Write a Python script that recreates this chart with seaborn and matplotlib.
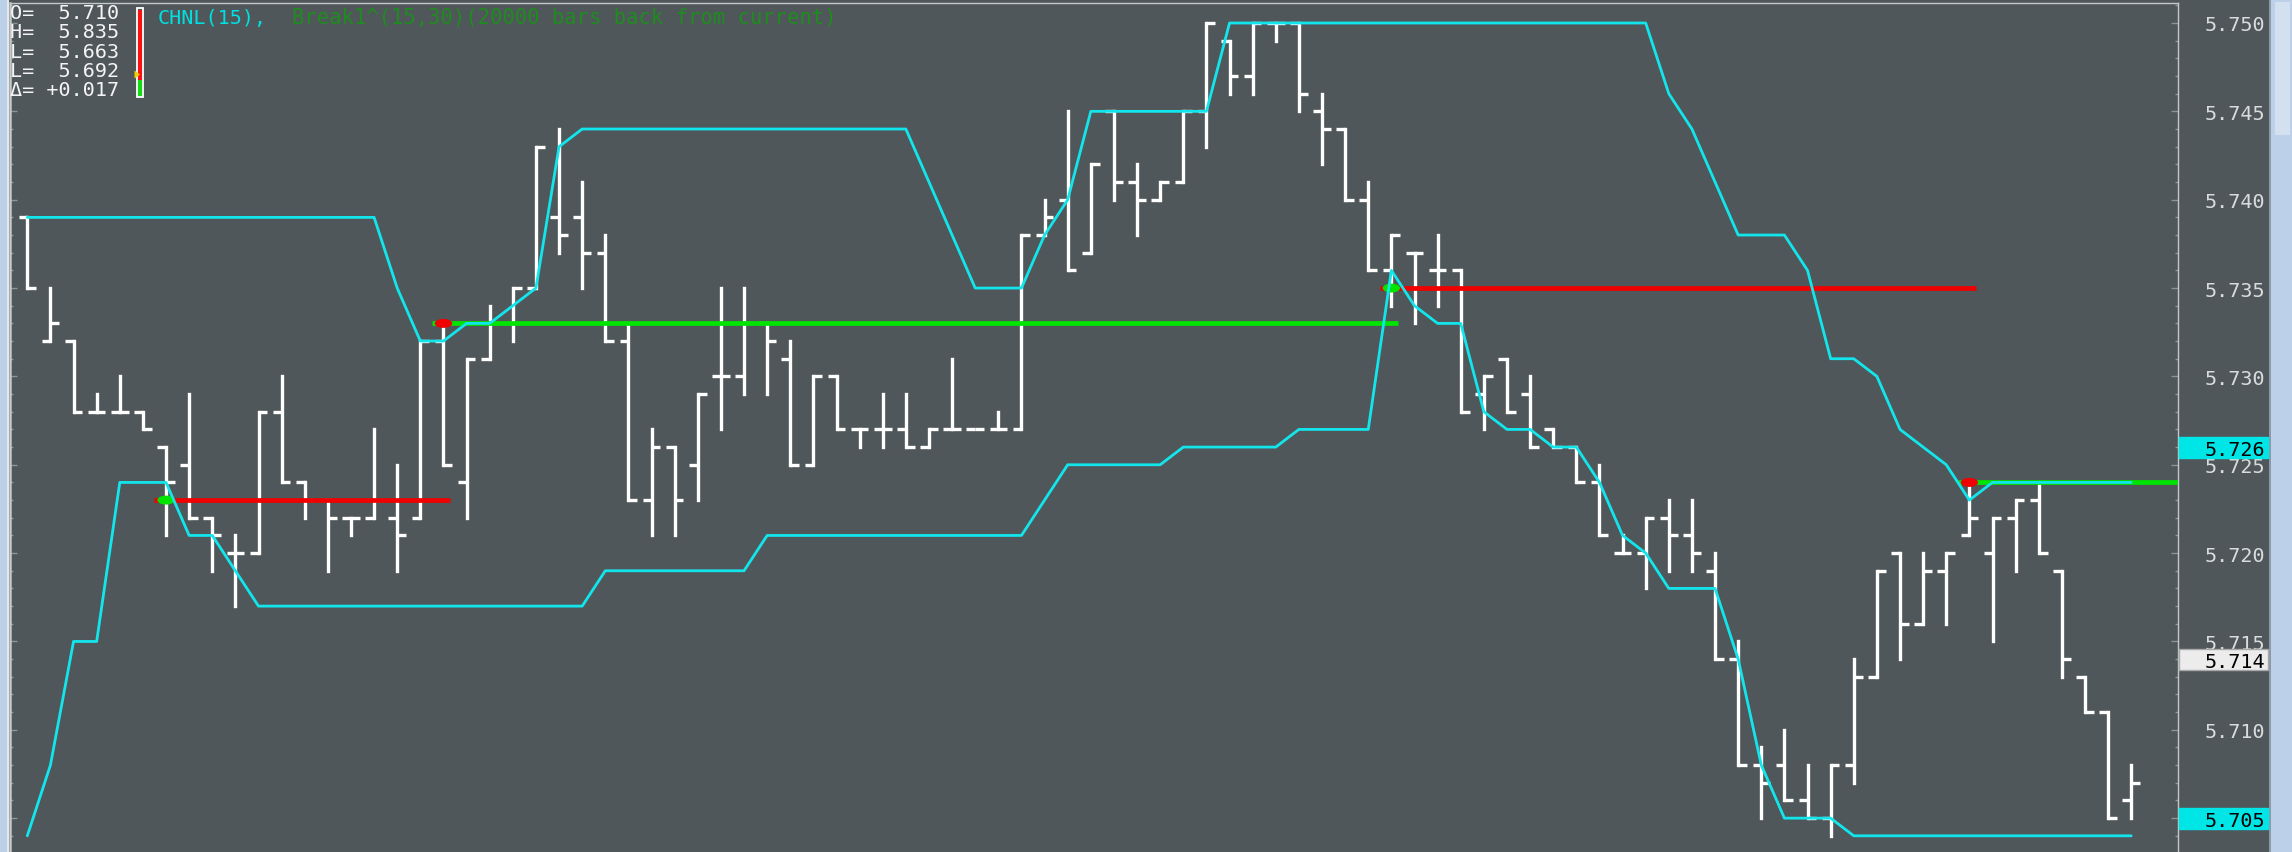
import numpy as np
import pandas as pd
import matplotlib
matplotlib.use("Agg")
import matplotlib.pyplot as plt
import seaborn as sns
from matplotlib.patches import Rectangle, Ellipse, Polygon
from matplotlib.ticker import MultipleLocator, FixedLocator, FormatStrFormatter

# ---------------- data ----------------
opens = [5.739, 5.732, 5.732, 5.728, 5.728, 5.728, 5.726, 5.725, 5.722, 5.720,
         5.720, 5.728, 5.724, 5.723, 5.722, 5.722, 5.722, 5.722, 5.732, 5.724,
         5.731, 5.733, 5.735, 5.739, 5.739, 5.737, 5.732, 5.723, 5.726, 5.725,
         5.730, 5.730, 5.733, 5.731, 5.725, 5.730, 5.727, 5.727, 5.727, 5.726,
         5.727, 5.727, 5.727, 5.727, 5.738, 5.740, 5.737, 5.745, 5.741, 5.740,
         5.741, 5.745, 5.749, 5.747, 5.750, 5.750, 5.745, 5.744, 5.740, 5.736,
         5.737, 5.736, 5.736, 5.729, 5.731, 5.729, 5.727, 5.726, 5.724, 5.720,
         5.720, 5.722, 5.721, 5.719, 5.714, 5.708, 5.708, 5.706, 5.705, 5.708,
         5.713, 5.720, 5.716, 5.719, 5.721, 5.720, 5.722, 5.723, 5.719, 5.713,
         5.711, 5.706]
highs = [5.739, 5.735, 5.732, 5.729, 5.730, 5.728, 5.726, 5.729, 5.722, 5.721,
         5.728, 5.730, 5.724, 5.723, 5.722, 5.727, 5.725, 5.732, 5.733, 5.731,
         5.734, 5.735, 5.743, 5.744, 5.741, 5.738, 5.733, 5.727, 5.726, 5.729,
         5.735, 5.735, 5.733, 5.732, 5.730, 5.730, 5.727, 5.729, 5.729, 5.727,
         5.731, 5.727, 5.728, 5.738, 5.740, 5.745, 5.742, 5.745, 5.742, 5.741,
         5.745, 5.750, 5.749, 5.750, 5.750, 5.750, 5.746, 5.744, 5.741, 5.738,
         5.737, 5.738, 5.736, 5.730, 5.731, 5.730, 5.727, 5.726, 5.725, 5.721,
         5.722, 5.723, 5.723, 5.720, 5.715, 5.709, 5.710, 5.708, 5.708, 5.714,
         5.719, 5.720, 5.720, 5.720, 5.724, 5.722, 5.723, 5.724, 5.719, 5.713,
         5.711, 5.708]
lows = [5.735, 5.732, 5.728, 5.728, 5.728, 5.727, 5.721, 5.722, 5.719, 5.717,
        5.720, 5.724, 5.722, 5.719, 5.721, 5.722, 5.719, 5.722, 5.725, 5.722,
        5.731, 5.732, 5.735, 5.737, 5.735, 5.732, 5.723, 5.721, 5.721, 5.723,
        5.727, 5.729, 5.729, 5.725, 5.725, 5.727, 5.726, 5.726, 5.726, 5.726,
        5.727, 5.727, 5.727, 5.727, 5.738, 5.736, 5.737, 5.740, 5.738, 5.740,
        5.741, 5.743, 5.746, 5.746, 5.749, 5.745, 5.742, 5.740, 5.736, 5.734,
        5.733, 5.734, 5.728, 5.727, 5.728, 5.726, 5.726, 5.724, 5.721, 5.720,
        5.718, 5.719, 5.719, 5.714, 5.708, 5.705, 5.706, 5.705, 5.704, 5.707,
        5.713, 5.714, 5.716, 5.716, 5.721, 5.715, 5.719, 5.720, 5.713, 5.711,
        5.705, 5.705]
closes = [5.735, 5.733, 5.728, 5.728, 5.728, 5.727, 5.724, 5.722, 5.721, 5.720,
          5.728, 5.724, 5.723, 5.722, 5.722, 5.723, 5.721, 5.732, 5.725, 5.731,
          5.733, 5.735, 5.743, 5.738, 5.737, 5.732, 5.723, 5.726, 5.723, 5.729,
          5.730, 5.733, 5.732, 5.725, 5.730, 5.727, 5.727, 5.727, 5.726, 5.727,
          5.727, 5.727, 5.727, 5.738, 5.739, 5.736, 5.742, 5.741, 5.740, 5.741,
          5.745, 5.750, 5.747, 5.750, 5.750, 5.746, 5.744, 5.740, 5.736, 5.738,
          5.737, 5.736, 5.728, 5.730, 5.728, 5.726, 5.726, 5.724, 5.721, 5.720,
          5.722, 5.721, 5.720, 5.714, 5.708, 5.707, 5.706, 5.705, 5.708, 5.713,
          5.719, 5.716, 5.719, 5.720, 5.722, 5.722, 5.723, 5.720, 5.714, 5.711,
          5.705, 5.707]

chnl_upper = [5.739, 5.739, 5.739, 5.739, 5.739, 5.739, 5.739, 5.739, 5.739, 5.739,
              5.739, 5.739, 5.739, 5.739, 5.739, 5.739, 5.735, 5.732, 5.732, 5.733,
              5.733, 5.734, 5.735, 5.743, 5.744, 5.744, 5.744, 5.744, 5.744, 5.744,
              5.744, 5.744, 5.744, 5.744, 5.744, 5.744, 5.744, 5.744, 5.744, 5.741,
              5.738, 5.735, 5.735, 5.735, 5.738, 5.740, 5.745, 5.745, 5.745, 5.745,
              5.745, 5.745, 5.750, 5.750, 5.750, 5.750, 5.750, 5.750, 5.750, 5.750,
              5.750, 5.750, 5.750, 5.750, 5.750, 5.750, 5.750, 5.750, 5.750, 5.750,
              5.750, 5.746, 5.744, 5.741, 5.738, 5.738, 5.738, 5.736, 5.731, 5.731,
              5.730, 5.727, 5.726, 5.725, 5.723, 5.724, 5.724, 5.724, 5.724, 5.724,
              5.724, 5.724]
chnl_lower = [5.704, 5.708, 5.715, 5.715, 5.724, 5.724, 5.724, 5.721, 5.721, 5.719,
              5.717, 5.717, 5.717, 5.717, 5.717, 5.717, 5.717, 5.717, 5.717, 5.717,
              5.717, 5.717, 5.717, 5.717, 5.717, 5.719, 5.719, 5.719, 5.719, 5.719,
              5.719, 5.719, 5.721, 5.721, 5.721, 5.721, 5.721, 5.721, 5.721, 5.721,
              5.721, 5.721, 5.721, 5.721, 5.723, 5.725, 5.725, 5.725, 5.725, 5.725,
              5.726, 5.726, 5.726, 5.726, 5.726, 5.727, 5.727, 5.727, 5.727, 5.736,
              5.734, 5.733, 5.733, 5.728, 5.727, 5.727, 5.726, 5.726, 5.724, 5.721,
              5.720, 5.718, 5.718, 5.718, 5.714, 5.708, 5.705, 5.705, 5.705, 5.704,
              5.704, 5.704, 5.704, 5.704, 5.704, 5.704, 5.704, 5.704, 5.704, 5.704,
              5.704, 5.704]

break_bars = [6, 18, 59, 84]
break_levels = [5.723, 5.733, 5.735, 5.724]
break_dirs = ["down", "up", "down", "up"]

axis_ticks = [5.705, 5.710, 5.715, 5.720, 5.725, 5.730, 5.735, 5.740, 5.745, 5.750]
highlight_values = [5.726, 5.714, 5.705]
highlight_kinds = ["cyan", "gray", "cyan"]

legend_rows = ["O=  5.710", "H=  5.835", "L=  5.663", "L=  5.692", "\u0394= +0.017"]
title_chnl = "CHNL(15),"
title_break = "Break1^(15,30)(20000 bars back from current)"

# ---------------- style ----------------
BG = "#4f575a"
CYAN = "#12e6ec"
RED = "#f00000"
GREEN = "#00e400"
BARC = "#ffffff"

sns.set_style("dark")
plt.rcParams["font.family"] = ["DejaVu Sans Mono", "DejaVu Sans"]

W, H = 2292, 853
fig = plt.figure(figsize=(W / 100, H / 100), dpi=100, facecolor=BG)

# layout (pixels)
ax_left, ax_right, ax_top = 10, 2178, 3.5
bar0_px, bar_step = 27.3, 23.12
ref_val, ref_px, pxu = 5.750, 24.0, 17670.0

ax = fig.add_axes([ax_left / W, 0, (ax_right - ax_left) / W, (H - ax_top) / H])
ax.set_facecolor(BG)
xl0 = -(bar0_px - ax_left) / bar_step
xl1 = (ax_right - bar0_px) / bar_step
ax.set_xlim(xl0, xl1)
yt = ref_val + (ref_px - ax_top) / pxu
yb = yt - (H - ax_top) / pxu
ax.set_ylim(yb, yt)

df = pd.DataFrame({"bar": np.arange(len(opens)), "open": opens, "high": highs,
                   "low": lows, "close": closes,
                   "upper": chnl_upper, "lower": chnl_lower})

# OHLC bars
tick = 0.38
lw_bar = 2.4
ax.vlines(df["bar"], df["low"], df["high"], colors=BARC, linewidth=lw_bar,
          capstyle="projecting", zorder=2)
ax.hlines(df["open"], df["bar"] - tick, df["bar"], colors=BARC, linewidth=lw_bar,
          capstyle="butt", zorder=2)
ax.hlines(df["close"], df["bar"], df["bar"] + tick, colors=BARC, linewidth=lw_bar,
          capstyle="butt", zorder=2)

# breakout lines
for k, (b, lvl, d) in enumerate(zip(break_bars, break_levels, break_dirs)):
    end = break_bars[k + 1] + 0.3 if k + 1 < len(break_bars) else xl1 + 1
    col = RED if d == "down" else GREEN
    other = GREEN if d == "down" else RED
    ax.hlines(lvl, b - 0.5, end, colors=col, linewidth=3.4, zorder=3,
              capstyle="butt")
    ax.add_patch(Ellipse((b, lvl), width=0.75, height=9 / pxu, color=other,
                         zorder=3.5, lw=0))

# channel lines
sns.lineplot(data=df, x="bar", y="upper", ax=ax, color=CYAN, linewidth=2.0,
             zorder=5, legend=False)
sns.lineplot(data=df, x="bar", y="lower", ax=ax, color=CYAN, linewidth=2.0,
             zorder=5, legend=False)

ax.set_xlabel("")
ax.set_ylabel("")
ax.grid(False)

# axis / ticks
ax.yaxis.set_major_locator(FixedLocator(axis_ticks))
ax.yaxis.set_major_formatter(FormatStrFormatter("%.3f"))
ax.yaxis.set_minor_locator(MultipleLocator(0.001))
ax.tick_params(axis="y", which="both", direction="in", left=True, right=True,
               labelleft=False, labelright=True, colors="#8c9496",
               labelcolor="#d8dcdc", labelsize=14.5, pad=19)
ax.tick_params(axis="y", which="major", length=5, width=1)
ax.tick_params(axis="y", which="minor", length=2.5, width=1)
ax.tick_params(axis="x", which="both", bottom=False, top=False,
               labelbottom=False)
for s in ["left", "right", "top"]:
    ax.spines[s].set_visible(True)
    ax.spines[s].set_color("#c4c8c8")
ax.spines["left"].set_linewidth(1.8)
ax.spines["right"].set_linewidth(1.0)
ax.spines["top"].set_linewidth(1.0)
ax.spines["bottom"].set_visible(False)

# ---------------- overlay (frame pieces, legend, value boxes) ----------------
ov = fig.add_axes([0, 0, 1, 1], zorder=10)
ov.set_xlim(0, W)
ov.set_ylim(H, 0)
ov.axis("off")
ov.patch.set_alpha(0)

# window frame strips
ov.add_patch(Rectangle((0, 0), 7, H, color="#bcd0e8", lw=0))
ov.add_patch(Rectangle((7, 0), 1.5, H, color="#e4e8ec", lw=0))
ov.add_patch(Rectangle((0, 0), W, 1.3, color="#d2d4d6", lw=0))
ov.add_patch(Rectangle((2268.5, 0), 2.0, H, color="#8c9aa8", lw=0))
ov.add_patch(Rectangle((2270.5, 0), W - 2270.5, H, color="#bcd0ea", lw=0))
ov.add_patch(Rectangle((2275, 3), 15, 133, color="#d2e0f0", lw=0))

# highlighted price boxes on the axis
fig.canvas.draw()
for v, kind in zip(highlight_values, highlight_kinds):
    yc = H - ax.transData.transform((0, v))[1]
    if kind == "cyan":
        fc, ec = "#00e6e6", "#00e6e6"
    else:
        fc, ec = "#ececec", "#a8a8a8"
    ov.add_patch(Rectangle((2179, yc - 10.5), 89, 21, facecolor=fc,
                           edgecolor=ec, lw=1))
    ov.text(2265, yc, f"{v:.3f}", ha="right", va="center_baseline",
            fontsize=14.5, color="#000000")

# OHLC legend block
for i, row in enumerate(legend_rows):
    ov.text(10.5, 13.5 + 19.3 * i, row, ha="left", va="center", fontsize=14.5,
            color="#f4f4f4")

# colour bar with marker
ov.add_patch(Rectangle((137, 9), 6, 89, facecolor="none", edgecolor="#ffffff",
                       lw=1.3))
ov.add_patch(Rectangle((138.3, 10.5), 3.4, 70.5, color="#ff1010", lw=0))
ov.add_patch(Rectangle((138.3, 81), 3.4, 15.8, color="#10dd10", lw=0))
ov.add_patch(Polygon([[134.5, 71.5], [134.5, 79.5], [140, 75.5]],
                     closed=True, color="#f2d000", lw=0))

# indicator titles
ov.text(158, 18.3, title_chnl, ha="left", va="center", fontsize=14.5,
        color="#00e0e0")
ov.text(291.6, 18.3, title_break, ha="left", va="center", fontsize=14.8,
        color="#1f8c1f")

fig.savefig("out.png", dpi=100, facecolor=BG)
